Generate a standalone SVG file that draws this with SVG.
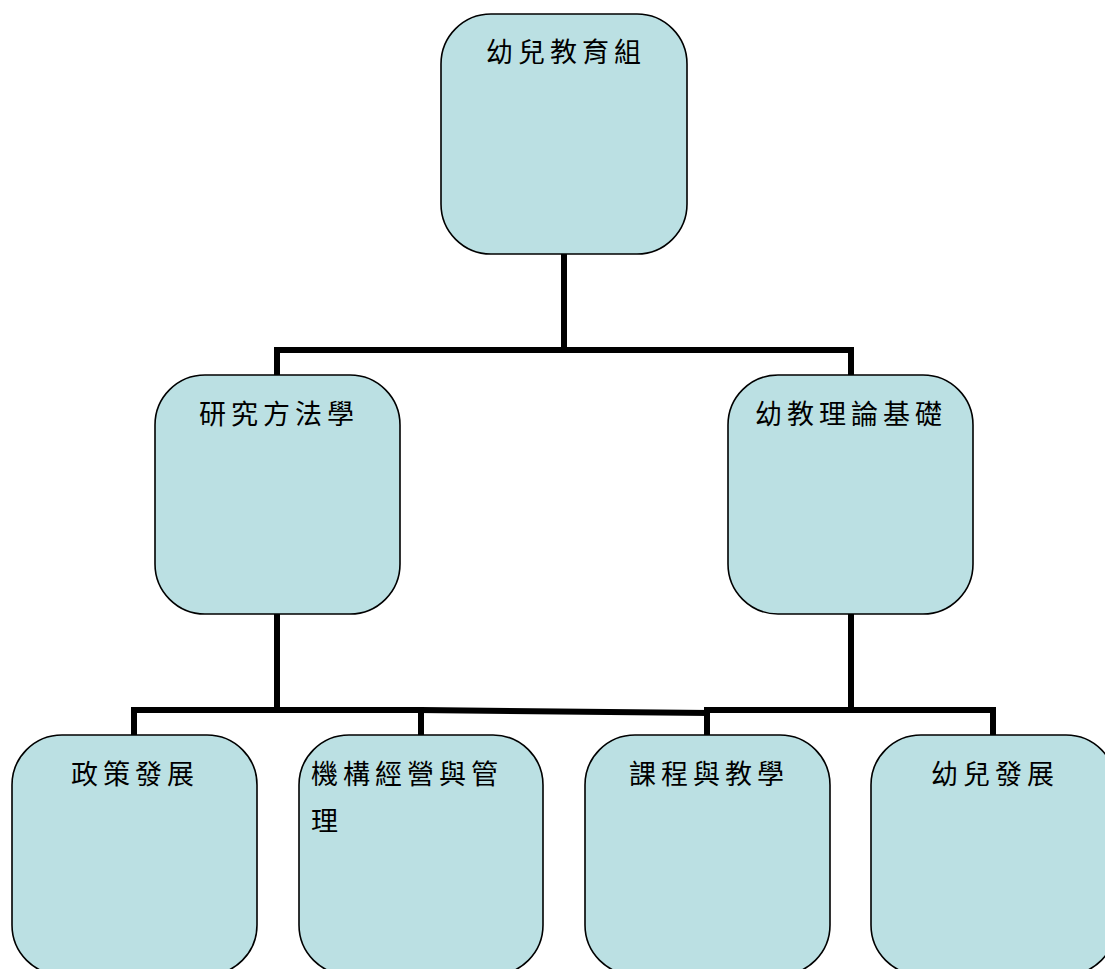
<svg xmlns="http://www.w3.org/2000/svg" width="1105" height="969" viewBox="0 0 1105 969">
<style>
.box{fill:#bbe0e3;stroke:#000;stroke-width:1.6}
.lbl{font-family:"Noto Sans CJK TC","Noto Sans CJK SC",sans-serif;font-size:27px;letter-spacing:5px;fill:#000}
.conn{fill:none;stroke:#000;stroke-width:6;stroke-linecap:square;stroke-linejoin:miter}
</style>
<rect width="1105" height="969" fill="#fff"/>
<g id="connectors">
<path class="conn" d="M564 254 V350 M277 375 V350 H851 V375"/>
<path class="conn" d="M277 614 V710 M134 735 V710 H421 V735"/>
<path class="conn" d="M421 710 L707 713"/>
<path class="conn" d="M851 614 V710 M707 735 V710 H993 V735"/>
</g>
<g id="node-root">
<rect class="box" x="441" y="14" width="246" height="240" rx="50"/>
<text class="lbl" x="486" y="62">幼兒教育組</text>
</g>
<g id="node-research">
<rect class="box" x="155" y="375" width="245" height="239" rx="50"/>
<text class="lbl" x="199" y="424">研究方法學</text>
</g>
<g id="node-theory">
<rect class="box" x="728" y="375" width="245" height="239" rx="50"/>
<text class="lbl" x="755" y="424">幼教理論基礎</text>
</g>
<g id="node-policy">
<rect class="box" x="12" y="735" width="245" height="240" rx="50"/>
<text class="lbl" x="71" y="784">政策發展</text>
</g>
<g id="node-management">
<rect class="box" x="299" y="735" width="244" height="240" rx="50"/>
<text class="lbl" x="311" y="784">機構經營與管</text>
<text class="lbl" x="311" y="831">理</text>
</g>
<g id="node-curriculum">
<rect class="box" x="585" y="735" width="245" height="240" rx="50"/>
<text class="lbl" x="629" y="784">課程與教學</text>
</g>
<g id="node-child">
<rect class="box" x="871" y="735" width="245" height="240" rx="50"/>
<text class="lbl" x="931" y="784">幼兒發展</text>
</g>
</svg>
